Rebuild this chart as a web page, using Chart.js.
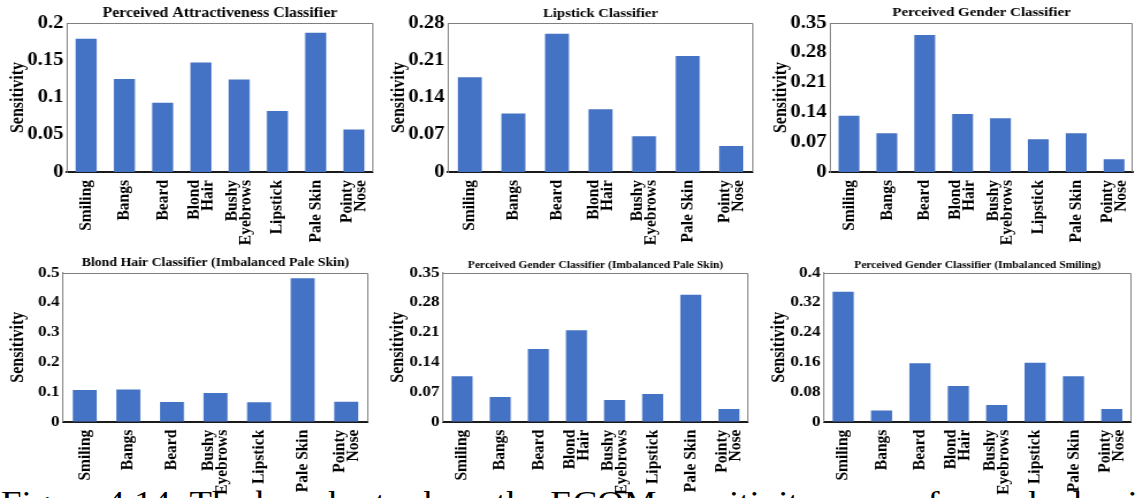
<!DOCTYPE html>
<html>
<head>
<meta charset="utf-8">
<script src="https://cdn.jsdelivr.net/npm/chart.js@4.4.1/dist/chart.umd.min.js"></script>
<style>
  html, body { margin: 0; padding: 0; background: #fff; }
  body { width: 1135px; height: 498px; position: relative; overflow: hidden; }
  .panel { position: absolute; transform-origin: 0 0; }
  .caption {
    position: absolute; left: 1px; top: 486px; transform-origin: 0 0; transform: scaleX(1.15);
    font: 32px 'Liberation Serif', 'Times New Roman', serif; line-height: 32px; white-space: nowrap;
  }
</style>
</head>
<body>
<div class="caption">Figure 4.14: The bar charts show the ECOM sensitivity scores for each classifier</div>
<script>
// categories
const catsAttractive = ['Smiling', 'Bangs', 'Beard', ['Blond', 'Hair'], ['Bushy', 'Eyebrows'], 'Lipstick', 'Pale Skin', ['Pointy', 'Nose']];
const catsLipstick = ['Smiling', 'Bangs', 'Beard', ['Blond', 'Hair'], ['Bushy', 'Eyebrows'], 'Pale Skin', ['Pointy', 'Nose']];
const catsGender = catsAttractive;
const catsBlondPale = ['Smiling', 'Bangs', 'Beard', ['Bushy', 'Eyebrows'], 'Lipstick', 'Pale Skin', ['Pointy', 'Nose']];
const catsGenderPale = catsAttractive;
const catsGenderSmiling = catsAttractive;

// sensitivity values
const sensAttractive = [0.179, 0.125, 0.093, 0.147, 0.124, 0.082, 0.187, 0.057];
const sensLipstick = [0.178, 0.110, 0.260, 0.118, 0.067, 0.218, 0.049];
const sensGender = [0.132, 0.091, 0.322, 0.136, 0.126, 0.077, 0.091, 0.030];
const sensBlondPale = [0.106, 0.108, 0.066, 0.096, 0.065, 0.481, 0.067];
const sensGenderPale = [0.107, 0.058, 0.171, 0.215, 0.051, 0.065, 0.298, 0.030];
const sensGenderSmiling = [0.349, 0.030, 0.157, 0.096, 0.045, 0.158, 0.122, 0.034];

// y tick labels
const ticksAttractive = ['0', '0.05', '0.1', '0.15', '0.2'];
const ticksLipstick = ['0', '0.07', '0.14', '0.21', '0.28'];
const ticksGender = ['0', '0.07', '0.14', '0.21', '0.28', '0.35'];
const ticksBlondPale = ['0', '0.1', '0.2', '0.3', '0.4', '0.5'];
const ticksGenderPale = ['0', '0.07', '0.14', '0.21', '0.28', '0.35'];
const ticksGenderSmiling = ['0', '0.08', '0.16', '0.24', '0.32', '0.4'];

const FONT = "'Liberation Serif', 'Times New Roman', serif";
const BAR_BLUE = '#4472C4';
const S = 1.15; // the figure is a bit wider than tall

// panel boxes in page pixels
const panels = [
  { left: 0, top: 0, width: 378, height: 250, plotL: 67, plotR: 373, plotT: 23, plotB: 172,
    title: 'Perceived Attractiveness Classifier', titleSize: 13.8, titleY: 13, tickSize: 18,
    labels: catsAttractive, values: sensAttractive, max: 0.2, step: 0.05, tickLabels: ticksAttractive },
  { left: 381, top: 0, width: 377, height: 250, plotL: 448, plotR: 753, plotT: 23, plotB: 172,
    title: 'Lipstick Classifier', titleSize: 12.8, titleY: 13.3, tickSize: 18,
    labels: catsLipstick, values: sensLipstick, max: 0.28, step: 0.07, tickLabels: ticksLipstick },
  { left: 763, top: 0, width: 372, height: 250, plotL: 830, plotR: 1133, plotT: 23, plotB: 172,
    title: 'Perceived Gender Classifier', titleSize: 13, titleY: 13, tickSize: 18,
    labels: catsGender, values: sensGender, max: 0.35, step: 0.07, tickLabels: ticksGender },
  { left: 0, top: 250, width: 373, height: 248, plotL: 63, plotR: 368, plotT: 272.7, plotB: 421.7,
    title: 'Blond Hair Classifier (Imbalanced Pale Skin)', titleSize: 12, titleY: 13.3, tickSize: 15,
    labels: catsBlondPale, values: sensBlondPale, max: 0.5, step: 0.1, tickLabels: ticksBlondPale },
  { left: 380, top: 250, width: 373, height: 248, plotL: 443, plotR: 748, plotT: 272.7, plotB: 421.7,
    title: 'Perceived Gender Classifier (Imbalanced Pale Skin)', titleSize: 10, titleY: 15, tickSize: 15,
    labels: catsGenderPale, values: sensGenderPale, max: 0.35, step: 0.07, tickLabels: ticksGenderPale },
  { left: 761, top: 250, width: 374, height: 248, plotL: 824, plotR: 1131, plotT: 272.7, plotB: 421.7,
    title: 'Perceived Gender Classifier (Imbalanced Smiling)', titleSize: 10, titleY: 15, tickSize: 15,
    labels: catsGenderSmiling, values: sensGenderSmiling, max: 0.4, step: 0.08, tickLabels: ticksGenderSmiling },
];

// gray box round the plot (left and bottom come from the axes)
const frame = {
  id: 'frame',
  afterDraw(chart) {
    const { ctx, chartArea: { top, right, left, bottom } } = chart;
    ctx.save();
    ctx.strokeStyle = '#7f7f7f';
    ctx.lineWidth = 1;
    ctx.beginPath();
    ctx.moveTo(left, Math.round(top) + 0.5);
    ctx.lineTo(Math.round(right) - 0.5, Math.round(top) + 0.5);
    ctx.lineTo(Math.round(right) - 0.5, bottom);
    ctx.stroke();
    ctx.restore();
  },
};

// rotated category labels, two-line ones centred on the bar
const xLabels = {
  id: 'xLabels',
  afterDraw(chart) {
    const ctx = chart.ctx;
    const xs = chart.scales.x;
    const fontSize = 15.5;
    const lh = 12;
    ctx.save();
    ctx.fillStyle = '#000';
    ctx.font = 'bold ' + fontSize + 'px ' + FONT;
    ctx.textAlign = 'right';
    ctx.textBaseline = 'middle';
    chart.data.labels.forEach(function (label, i) {
      const lines = Array.isArray(label) ? label : [label];
      const x = xs.getPixelForValue(i);
      lines.forEach(function (line, j) {
        ctx.save();
        ctx.translate(x + (j - (lines.length - 1) / 2) * lh, chart.chartArea.bottom + 8);
        ctx.rotate(-Math.PI / 2);
        ctx.fillText(line, 0, 0);
        ctx.restore();
      });
    });
    ctx.restore();
  },
};

function makeChart(p) {
  const cw = Math.round(p.width / S);
  const sx = p.width / cw;
  const wrap = document.createElement('div');
  wrap.className = 'panel';
  wrap.style.left = p.left + 'px';
  wrap.style.top = p.top + 'px';
  wrap.style.width = cw + 'px';
  wrap.style.height = p.height + 'px';
  wrap.style.transform = 'scaleX(' + sx + ')';
  const canvas = document.createElement('canvas');
  canvas.width = cw;
  canvas.height = p.height;
  wrap.appendChild(canvas);
  document.body.appendChild(wrap);

  const axisW = (p.plotL - p.left) / sx;
  const padR = (p.left + p.width - p.plotR) / sx;
  const titleLH = p.titleSize * 1.2;
  const titlePadTop = p.titleY - titleLH / 2;
  const titlePadBottom = p.plotT - p.top - titlePadTop - titleLH;
  const xH = p.top + p.height - p.plotB;

  return new Chart(canvas, {
    type: 'bar',
    data: {
      labels: p.labels,
      datasets: [{
        data: p.values,
        backgroundColor: BAR_BLUE,
        barPercentage: 0.55,
        categoryPercentage: 1.0,
      }],
    },
    options: {
      responsive: false,
      animation: false,
      devicePixelRatio: 1,
      layout: { padding: { left: 0, right: padR, top: 0, bottom: 0 } },
      plugins: {
        legend: { display: false },
        tooltip: { enabled: false },
        title: {
          display: true,
          fullSize: false,
          text: p.title,
          color: '#000',
          font: { family: FONT, size: p.titleSize, weight: 'bold', lineHeight: 1.2 },
          padding: { top: titlePadTop, bottom: titlePadBottom },
        },
      },
      scales: {
        x: {
          grid: { display: false, drawTicks: false },
          border: { color: '#1a1a1a', width: 2 },
          ticks: { display: false },
          afterFit: (s) => { s.height = xH; },
        },
        y: {
          min: 0,
          max: p.max,
          grid: { display: false, drawTicks: false },
          border: { color: '#7f7f7f', width: 1 },
          ticks: {
            stepSize: p.step,
            color: '#000',
            padding: 3,
            font: { family: FONT, size: p.tickSize, weight: 'bold' },
            callback: (v, i) => p.tickLabels[i],
          },
          title: {
            display: true,
            text: 'Sensitivity',
            color: '#000',
            font: { family: FONT, size: 16, weight: 'bold', lineHeight: 1.2 },
            padding: { top: 6, bottom: 0 },
          },
          afterFit: (s) => { s.width = axisW; },
        },
      },
    },
    plugins: [frame, xLabels],
  });
}

panels.forEach(makeChart);
</script>
</body>
</html>
